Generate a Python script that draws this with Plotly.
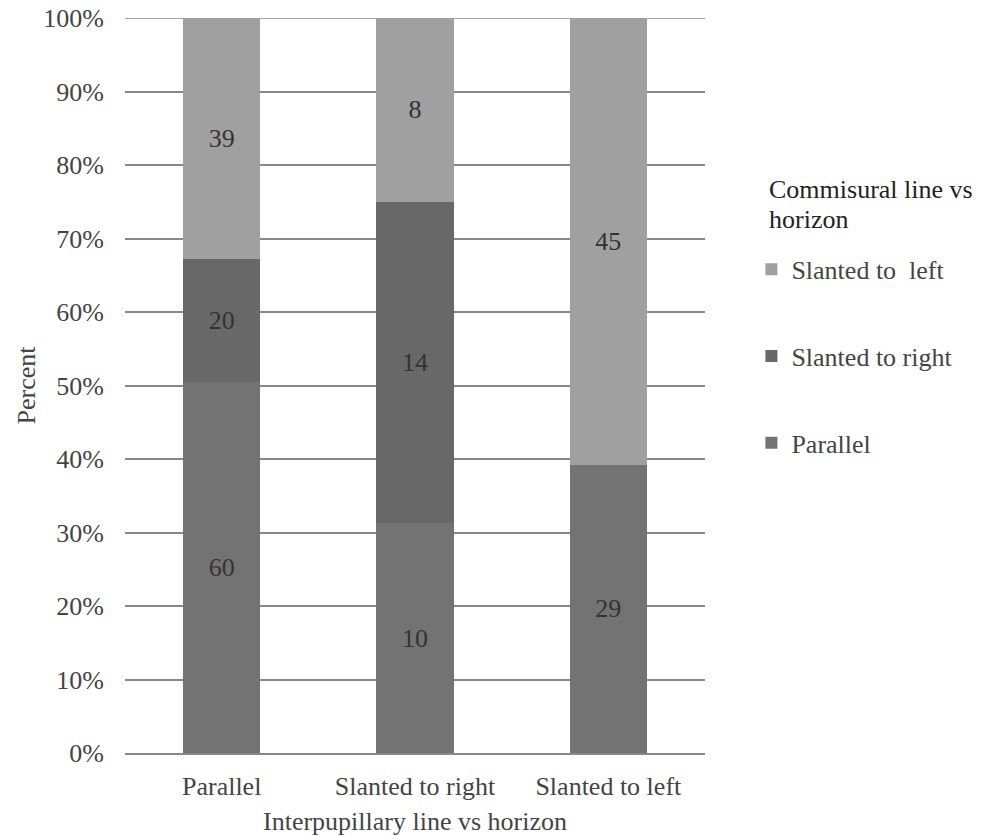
import plotly.graph_objects as go

categories = ["Parallel", "Slanted to right", "Slanted to left"]
parallel = [60, 10, 29]
slanted_right = [20, 14, 0]
slanted_left = [39, 8, 45]

series = [
    ("Parallel", parallel, "#737373", 3),
    ("Slanted to right", slanted_right, "#686868", 2),
    ("Slanted to  left", slanted_left, "#a0a0a0", 1),
]

FONT = "Liberation Serif, Times New Roman, serif"
FS = 26

fig = go.Figure()
for i, (name, vals, color, rank) in enumerate(series):
    fig.add_trace(go.Bar(
        x=categories, y=vals, name=name,
        marker=dict(color=color, line=dict(width=0)),
        text=[str(v) if v else "" for v in vals],
        textposition="inside", insidetextanchor="middle",
        textfont=dict(family=FONT, size=FS, color="#333333"),
        legendgroup=f"g{i}", legendrank=rank,
    ))

for txt, yy in [("Commisural line vs", 0.767), ("horizon", 0.726)]:
    fig.add_annotation(
        text=txt, xref="paper", yref="paper",
        x=1.107, y=yy, xanchor="left", yanchor="middle", align="left",
        showarrow=False, font=dict(family=FONT, size=FS, color="#222222"),
    )

# top gridline (100%) which plotly omits at the plot edge
fig.add_shape(type="line", xref="paper", yref="y", x0=0, x1=1, y0=100, y1=100,
              line=dict(color="#888888", width=1.5), layer="below")

fig.update_layout(
    barmode="stack", barnorm="percent", bargap=0.6,
    width=991, height=836,
    margin=dict(l=125, r=286, t=18, b=83),
    paper_bgcolor="white", plot_bgcolor="white",
    font=dict(family=FONT, size=FS, color="#444444"),
    xaxis=dict(
        title=dict(text="Interpupillary line vs horizon", standoff=12,
                   font=dict(size=FS, color="#444444")),
        showline=True, linecolor="#888888", linewidth=1.5,
        ticks="", tickfont=dict(size=FS, color="#444444"),
        ticklabelstandoff=9,
        automargin=False,
    ),
    yaxis=dict(
        title=dict(text="Percent", standoff=0, font=dict(size=FS, color="#444444")),
        range=[0, 100], dtick=10, ticksuffix="%",
        showgrid=True, gridcolor="#888888", gridwidth=1.5,
        zeroline=False, showline=False,
        tickfont=dict(size=FS, color="#444444"),
        ticklabelstandoff=20,
        ticklabeloverflow="allow",
        automargin=False,
    ),
    legend=dict(
        traceorder="grouped", tracegroupgap=50,
        x=1.08, xanchor="left", y=0.69, yanchor="top",
        font=dict(size=FS, color="#444444"),
        itemwidth=30,
        bgcolor="rgba(0,0,0,0)",
    ),
    showlegend=True,
)

fig.write_html("out.html", config={"displayModeBar": False},
               post_script="document.body.style.margin='0';")
